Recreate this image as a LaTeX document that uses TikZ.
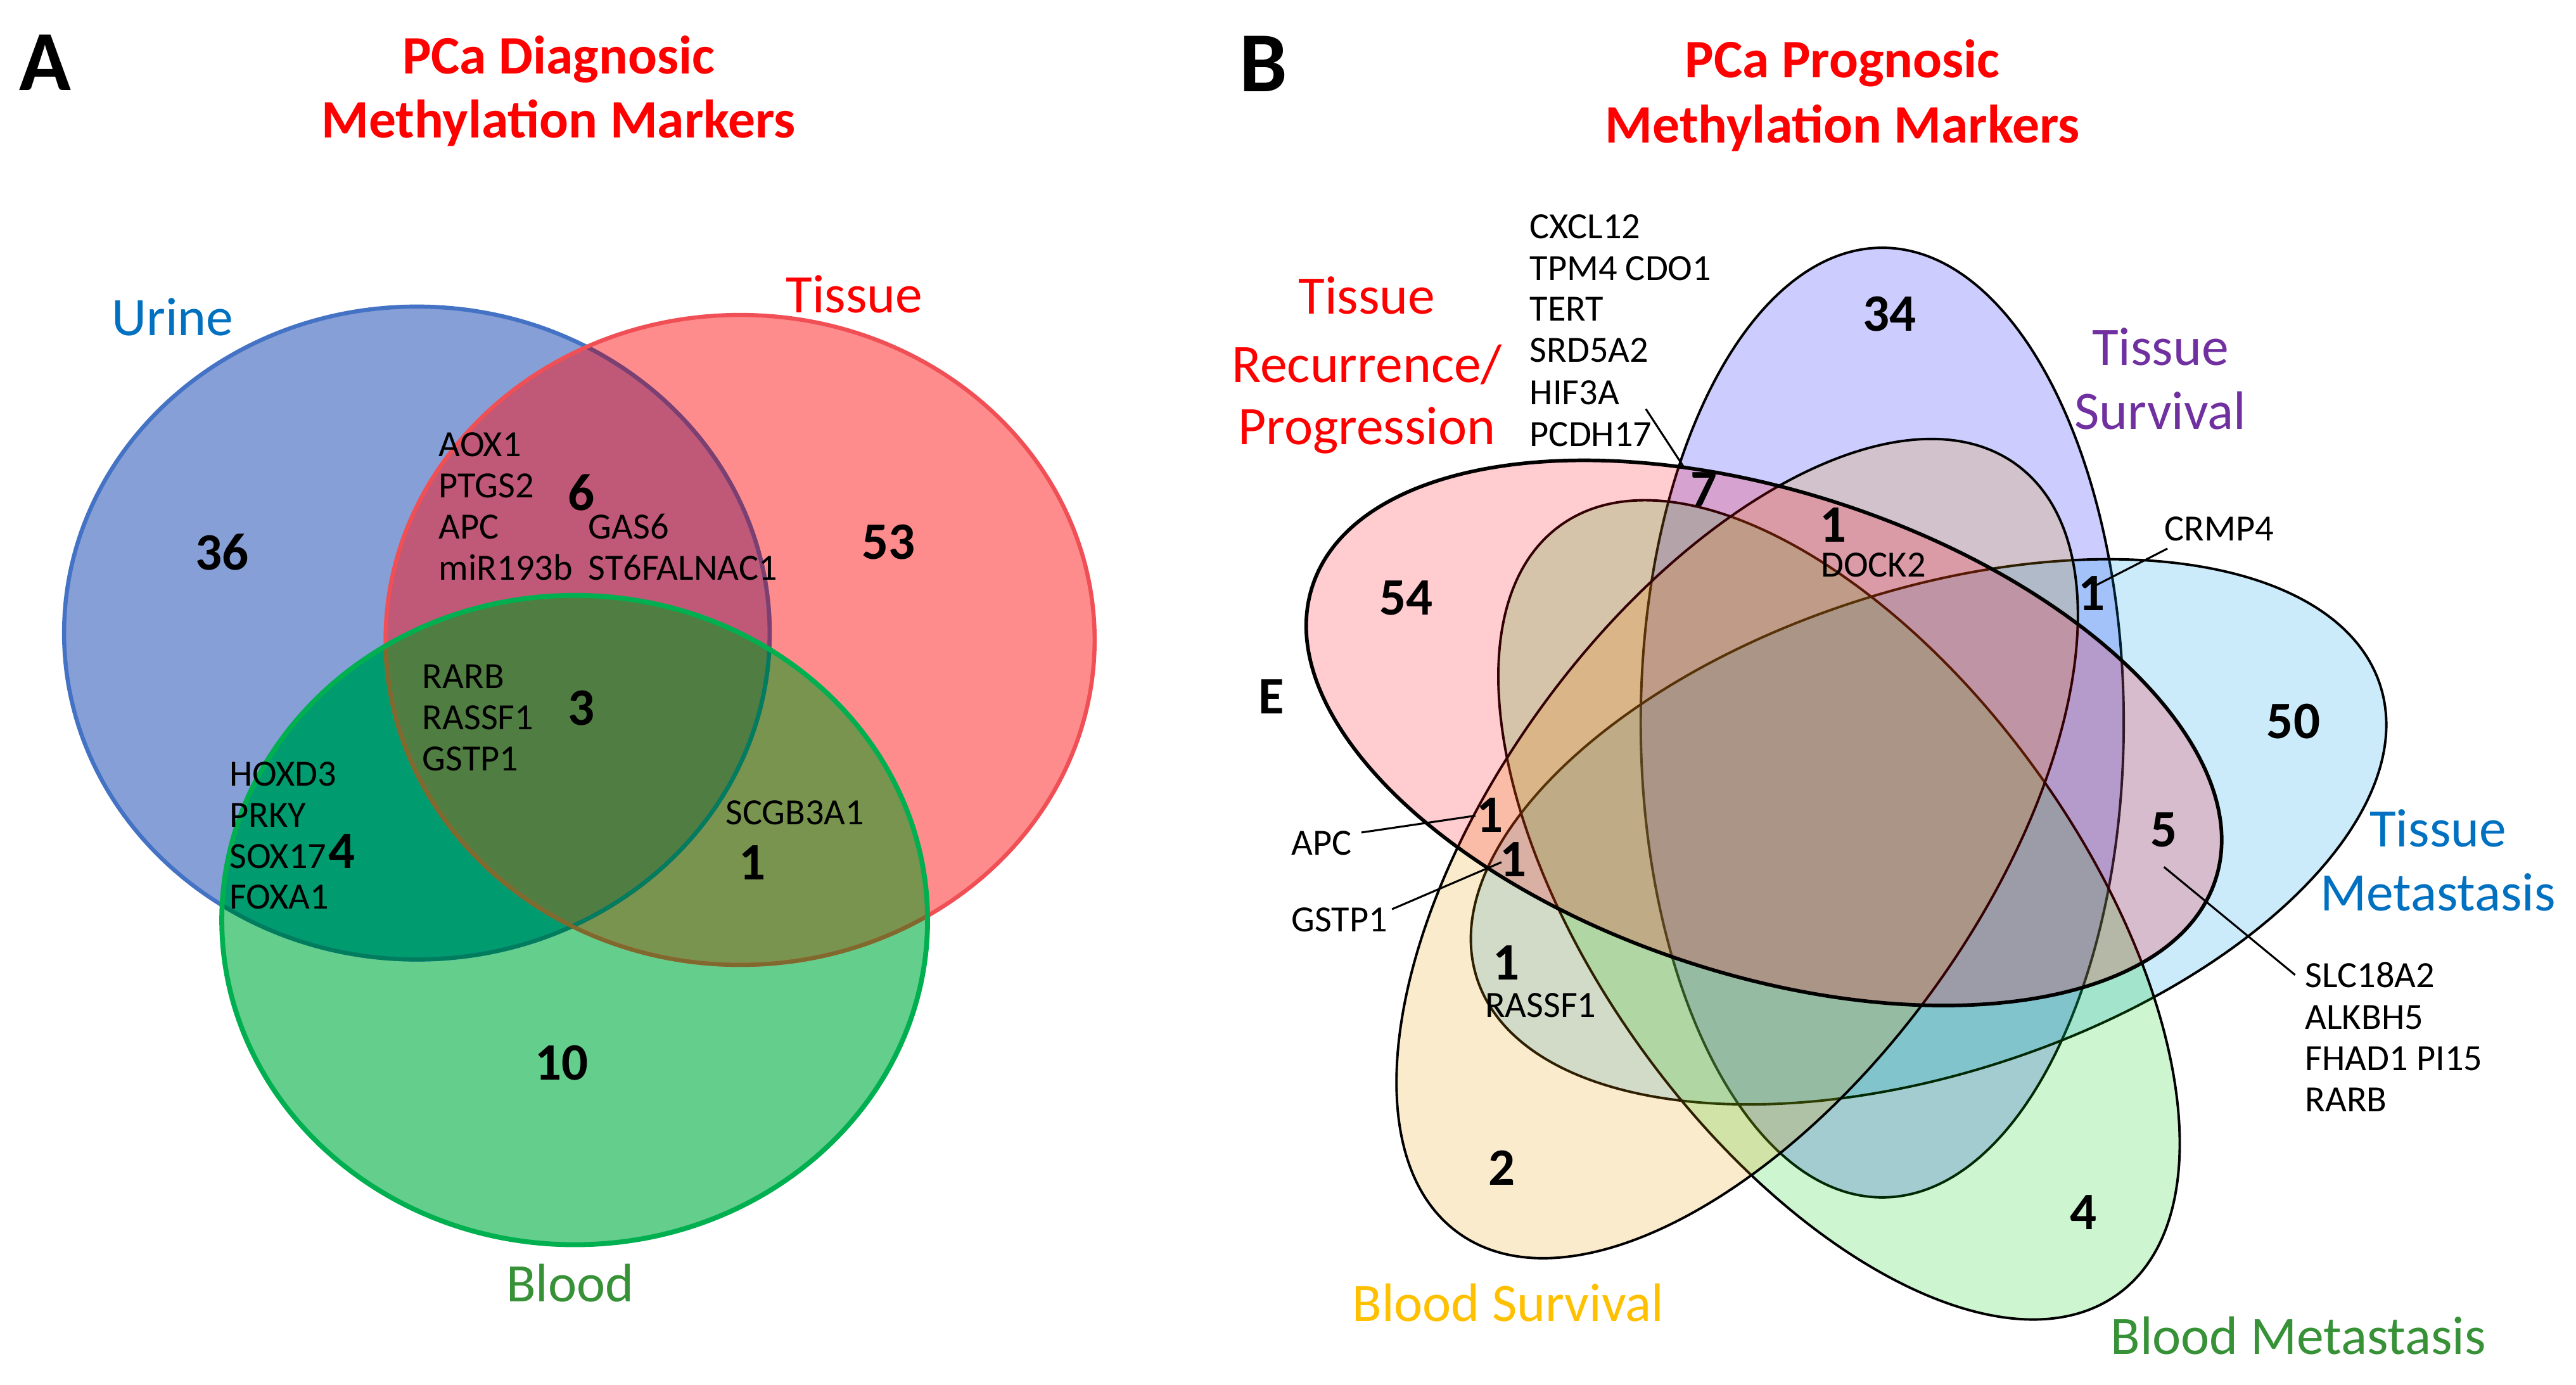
\documentclass[tikz,border=0pt]{standalone}
\usepackage{fontspec}
\setmainfont{Carlito}
\definecolor{tissueC}{RGB}{255,0,0}
\definecolor{colU}{RGB}{134,159,215}
\definecolor{colT}{RGB}{255,140,140}
\definecolor{colB}{RGB}{100,206,140}
\definecolor{colUT}{RGB}{192,88,120}
\definecolor{colUB}{RGB}{0,155,110}
\definecolor{colTB}{RGB}{120,148,78}
\definecolor{colUTB}{RGB}{80,125,65}
\definecolor{lineU}{RGB}{68,114,196}
\definecolor{lineUinT}{RGB}{125,62,112}
\definecolor{lineUinB}{RGB}{0,125,92}
\definecolor{lineT}{RGB}{240,80,85}
\definecolor{lineTinB}{RGB}{128,105,45}
\definecolor{lineB}{RGB}{0,176,80}
\definecolor{labBlue}{RGB}{0,112,192}
\definecolor{labGreen}{RGB}{55,145,55}
\definecolor{labPurple}{RGB}{112,48,160}
\definecolor{labGold}{RGB}{255,192,0}
\definecolor{pinkB}{RGB}{255,0,20}
\definecolor{lavB}{RGB}{0,0,255}
\definecolor{blueB}{RGB}{0,155,230}
\definecolor{greenB}{RGB}{0,205,20}
\definecolor{peachB}{RGB}{230,155,0}
\begin{document}
\begin{tikzpicture}[x=1pt,y=-1pt,
  gene/.style={font=\fontsize{22.5}{25}\selectfont, inner sep=0pt, anchor=base west},
  genec/.style={font=\fontsize{22.5}{25}\selectfont, inner sep=0pt},
  num/.style={font=\bfseries\fontsize{32}{36}\selectfont, inner sep=0pt},
  lab/.style={font=\fontsize{33}{40}\selectfont, inner sep=0pt},
  ttl/.style={font=\bfseries\fontsize{33}{40}\selectfont, inner sep=0pt, text=tissueC},
  letter/.style={font=\bfseries\fontsize{52}{60}\selectfont, inner sep=0pt},
  vset/.style={draw=black, line width=1.5pt, fill opacity=0.2},
  lead/.style={draw=black, line width=1.2pt},
  urineP/.style={insert path={(253.75,385.3) ellipse [x radius=214.75pt, y radius=198.7pt]}},
  tissueP/.style={insert path={(450.5,389.5) ellipse [x radius=215.8pt, y radius=197.8pt]}},
  bloodP/.style={insert path={(349.8,560) ellipse [x radius=214.8pt, y radius=197.6pt]}},
]
\useasboundingbox (0,0) rectangle (1568,843);
\fill[white] (0,0) rectangle (1568,843);

% ================= Panel A =================
\node[letter] (A) at (27.5,38) {A};
\node[ttl] (tA1) at (340,36) {PCa Diagnosic};
\node[ttl] (tA2) at (340,75) {Methylation Markers};

% region fills
\fill[colU, urineP];
\fill[colT, tissueP];
\fill[colB, bloodP];
\begin{scope}
  \clip[tissueP];
  \fill[colTB, bloodP];
\end{scope}
\begin{scope}
  \clip[urineP];
  \fill[colUT, tissueP];
  \fill[colUB, bloodP];
  \clip[tissueP];
  \fill[colUTB, bloodP];
\end{scope}
% outlines
\draw[lineU, line width=2.5pt, urineP];
\begin{scope}
  \clip[tissueP];
  \draw[lineUinT, line width=2.5pt, urineP];
\end{scope}
\draw[lineT, line width=2.5pt, tissueP];
\begin{scope}
  \clip[bloodP];
  \draw[lineUinB, line width=2.5pt, urineP];
  \draw[lineTinB, line width=2.5pt, tissueP];
\end{scope}
\draw[lineB, line width=3pt, bloodP];

\node[lab, text=labBlue] (lUrine) at (105,193) {Urine};
\node[lab, text=tissueC] (lTissueA) at (520,179) {Tissue};
\node[lab, text=labGreen] (lBloodA) at (347,781) {Blood};

\node[num] (n36) at (135,336) {36};
\node[num] (n6) at (354,300) {6};
\node[num] (n53) at (541,330) {53};
\node[num] (n3) at (354,431) {3};
\node[num] (n4a) at (208,518) {4};
\node[num] (n1a) at (458,525) {1};
\node[num] (n10) at (342,647) {10};

\node[gene] (gA1) at (267,278) {AOX1};
\node[gene] (gA2) at (267,303) {PTGS2};
\node[gene] (gA3) at (267,328) {APC};
\node[gene] (gA4) at (267,353) {miR193b};
\node[gene] (gA5) at (358,328) {GAS6};
\node[gene] (gA6) at (358,353) {ST6FALNAC1};
\node[gene] (gA7) at (257,419) {RARB};
\node[gene] (gA8) at (257,444) {RASSF1};
\node[gene] (gA9) at (257,469) {GSTP1};
\node[gene] (gA10) at (139.5,478.5) {HOXD3};
\node[gene] (gA11) at (139.5,503.5) {PRKY};
\node[gene] (gA12) at (139.5,528.5) {SOX17};
\node[gene] (gA13) at (139.5,553) {FOXA1};
\node[gene] (gA14) at (441.5,502) {SCGB3A1};

% ================= Panel B =================
\node[letter] (B) at (769,39) {B};
\node[ttl] (tB1) at (1121.5,38.5) {PCa Prognosic};
\node[ttl] (tB2) at (1121.5,78) {Methylation Markers};

\path[vset, fill=lavB, rotate around={-90:(1145.7,439.8)}]
  (1145.7,439.8) ellipse [x radius=289pt, y radius=147pt];
\path[vset, fill=blueB, rotate around={-162:(1173.9,506.3)}]
  (1173.9,506.3) ellipse [x radius=289pt, y radius=147pt];
\path[vset, fill=greenB, rotate around={-54:(1119.4,553.8)}]
  (1119.4,553.8) ellipse [x radius=289pt, y radius=147pt];
\path[vset, fill=peachB, rotate around={-126:(1057.4,516.5)}]
  (1057.4,516.5) ellipse [x radius=289pt, y radius=147pt];
\path[vset, fill=pinkB, line width=2.2pt, rotate around={-18:(1073.7,446.1)}]
  (1073.7,446.1) ellipse [x radius=289pt, y radius=147pt];

\node[lab, text=tissueC] (lTR1) at (832,180) {Tissue};
\node[lab, text=tissueC] (lTR2) at (832,222) {Recurrence/};
\node[lab, text=tissueC] (lTR3) at (832,262) {Progression};
\node[lab, text=labPurple] (lTS1) at (1315,211) {Tissue};
\node[lab, text=labPurple] (lTS2) at (1315,250) {Survival};
\node[lab, text=labBlue] (lTM1) at (1484,504) {Tissue};
\node[lab, text=labBlue] (lTM2) at (1484,543) {Metastasis};
\node[lab, text=labGold] (lBS) at (918,793) {Blood Survival};
\node[lab, text=labGreen] (lBM) at (1399,813) {Blood Metastasis};

\node[gene] (gB1) at (931,145) {CXCL12};
\node[gene] (gB2) at (931,170.5) {TPM4 CDO1};
\node[gene] (gB3) at (931,195.5) {TERT};
\node[gene] (gB4) at (931,220.5) {SRD5A2};
\node[gene] (gB5) at (931,246.2) {HIF3A};
\node[gene] (gB6) at (931,271.5) {PCDH17};
\node[genec] (gDOCK) at (1140.3,344) {DOCK2};
\node[genec] (gCRMP) at (1350.7,322) {CRMP4};
\node[genec, anchor=west] (gAPC) at (786,513) {APC};
\node[genec, anchor=west] (gGST) at (786,560) {GSTP1};
\node[genec] (gRAS) at (937.8,612) {RASSF1};
\node[gene] (gB7) at (1403,601.2) {SLC18A2};
\node[gene] (gB8) at (1403,626.6) {ALKBH5};
\node[gene] (gB9) at (1403,651.7) {FHAD1 PI15};
\node[gene] (gB10) at (1403,676.5) {RARB};

\node[num] (n34) at (1150,191) {34};
\node[num] (n7) at (1037,298) {7};
\node[num] (n1dock) at (1116,319.5) {1};
\node[num] (n1crmp) at (1273,361) {1};
\node[num] (n54) at (856,364) {54};
\node[num] (nE) at (774,424) {E};
\node[num] (n50) at (1396,439) {50};
\node[num] (n5) at (1317,505) {5};
\node[num] (n1apc) at (907,496) {1};
\node[num] (n1gst) at (921,523) {1};
\node[num] (n1ras) at (917,586) {1};
\node[num] (n2) at (914,711) {2};
\node[num] (n4b) at (1268,738) {4};

\coordinate (c7a) at (1001.8,248.9);
\coordinate (c7b) at (1024.7,284);
\coordinate (cCa) at (1319.3,333.9);
\coordinate (cCb) at (1274.1,357.1);
\coordinate (c5a) at (1317.2,527.7);
\coordinate (c5b) at (1397,593.4);
\coordinate (cAa) at (828.7,506.7);
\coordinate (cAb) at (898,496.5);
\coordinate (cGa) at (847.3,553.4);
\coordinate (cGb) at (913.9,524.8);
\draw[lead] (c7a) -- (c7b);
\draw[lead] (cCa) -- (cCb);
\draw[lead] (c5a) -- (c5b);
\draw[lead] (cAa) -- (cAb);
\draw[lead] (cGa) -- (cGb);
\end{tikzpicture}
\end{document}
